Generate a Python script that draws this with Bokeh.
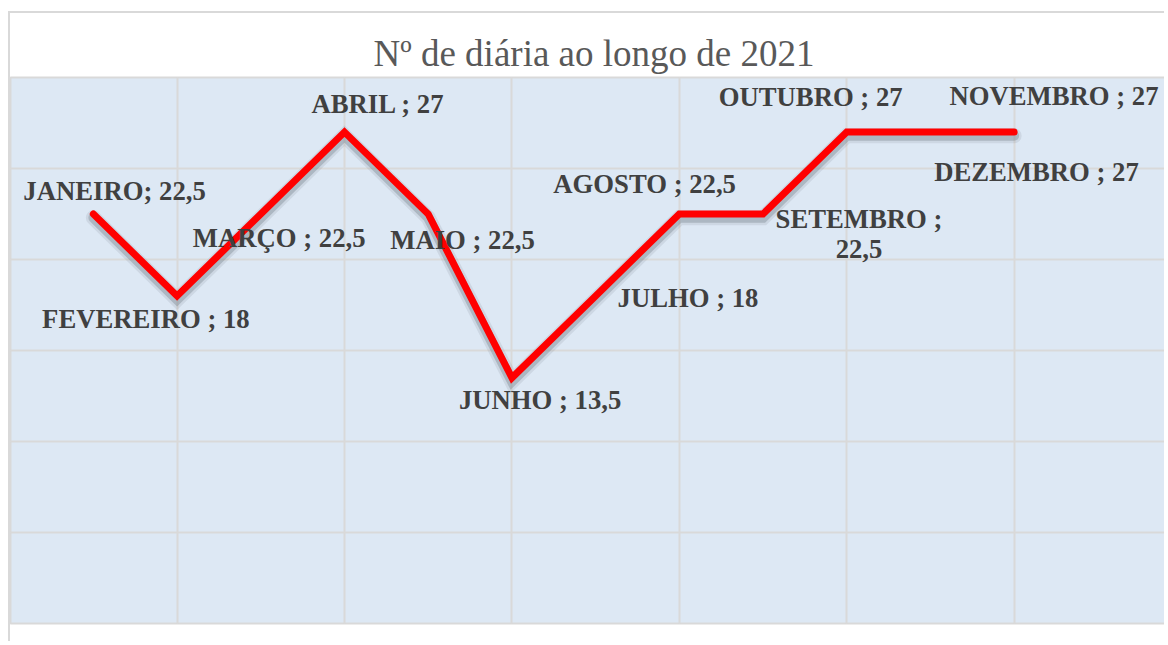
from bokeh.plotting import figure
from bokeh.models import ColumnDataSource, Range1d, FixedTicker, Grid
from bokeh.core.properties import value, field
from bokeh.embed import file_html
from bokeh.resources import INLINE

# ---- data ----
months = ["JANEIRO", "FEVEREIRO", "MARÇO", "ABRIL", "MAIO", "JUNHO",
          "JULHO", "AGOSTO", "SETEMBRO", "OUTUBRO", "NOVEMBRO", "DEZEMBRO"]
month_index = [1, 2, 3, 4, 5, 6, 7, 8, 9, 10, 11, 12]
values = [22.5, 18, 22.5, 27, 22.5, 13.5, 18, 22.5, 22.5, 27, 27, 27]
labels = ["JANEIRO; 22,5", "FEVEREIRO ; 18", "MARÇO ; 22,5", "ABRIL ; 27",
          "MAIO ; 22,5", "JUNHO ; 13,5", "JULHO ; 18", "AGOSTO ; 22,5",
          "SETEMBRO ;\n22,5", "OUTUBRO  ; 27", "NOVEMBRO ; 27", "DEZEMBRO ; 27"]
title_text = "Nº de diária ao longo de 2021"

# ---- label placement (style) ----
label_dx = [-70, -135, -68, -33, -38, -53, 22, -126, 96, -128, 19, -80]
label_dy = [-23, 23, 24, -28, 26, 22, 2, -30, 20, -35, -36, 40]
label_align = ["left"] * 8 + ["center"] + ["left"] * 3

src = ColumnDataSource(dict(x=month_index, y=values, label=labels,
                            dx=label_dx, dy=label_dy, align=label_align))
shadow_src = ColumnDataSource(dict(x=month_index, y=[v - 0.2 for v in values]))

p = figure(width=1156, height=630, output_backend="svg", toolbar_location=None,
           x_range=Range1d(0.01, 13.82), y_range=Range1d(0, 30),
           x_axis_location=None, y_axis_location=None,
           min_border_left=0, min_border_right=0, min_border_top=64,
           min_border_bottom=20, background_fill_color="#DDE8F4",
           border_fill_color="white", outline_line_color="#D9D9D9",
           outline_line_width=2)
p.styles = {"margin-top": "11px", "margin-left": "8px",
            "border-top": "2px solid #D9D9D9",
            "border-left": "2px solid #D9D9D9"}

p.xgrid.visible = False
p.ygrid.visible = False
p.add_layout(Grid(dimension=0, ticker=FixedTicker(ticks=[2, 4, 6, 8, 10, 12]),
                  grid_line_color="#D9D9D9", grid_line_width=2))
p.add_layout(Grid(dimension=1, ticker=FixedTicker(ticks=[5, 10, 15, 20, 25]),
                  grid_line_color="#D9D9D9", grid_line_width=2))

p.title.text = title_text
p.title.align = "left"
p.title.offset = 363
p.title.standoff = 8
p.title.text_font = "Liberation Serif"
p.title.text_font_size = "37px"
p.title.text_font_style = "normal"
p.title.text_color = "#595959"

# shadow
p.line("x", "y", source=shadow_src, line_color="#6F7A85", line_width=15,
       line_alpha=0.15, line_join="miter", line_cap="round")
p.line("x", "y", source=shadow_src, line_color="#6F7A85", line_width=10,
       line_alpha=0.35, line_join="miter", line_cap="round")
# main line
p.line("x", "y", source=src, line_color="#FF0000", line_width=7,
       line_join="miter", line_cap="round")

p.text(x="x", y="y", text="label", source=src, x_offset="dx", y_offset="dy",
       text_align=field("align"), text_baseline="alphabetic",
       text_font=value("Liberation Serif"), text_font_style="bold",
       text_font_size="26.7px", text_color="#404040", text_line_height=1.0)

open("out.html", "w").write(file_html(p, INLINE))
